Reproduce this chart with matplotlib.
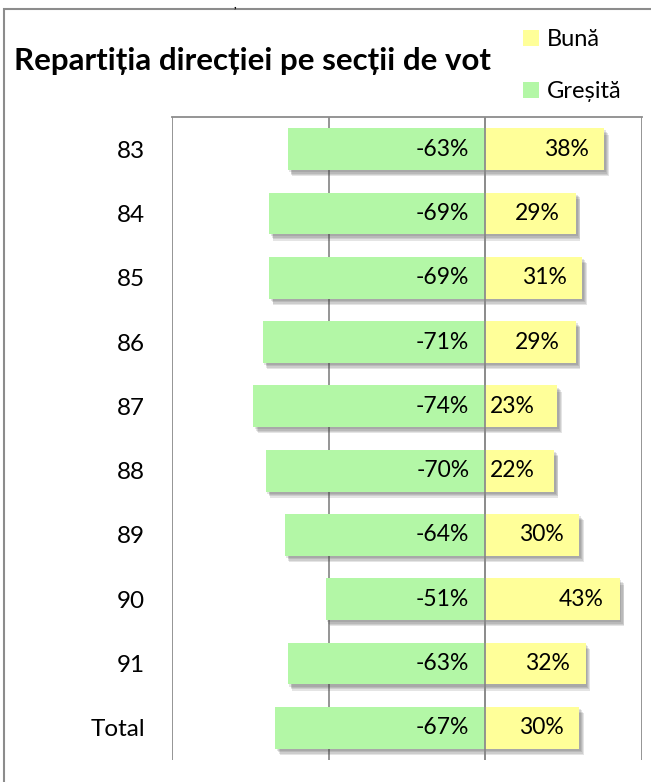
import numpy as np
import matplotlib.pyplot as plt
import matplotlib.patheffects as pe
from matplotlib.patches import Rectangle

categories = ['83', '84', '85', '86', '87', '88', '89', '90', '91', 'Total']
gresita = [-63, -69, -69, -71, -74, -70, -64, -51, -63, -67]
buna = [38, 29, 31, 29, 23, 22, 30, 43, 32, 30]

green = '#b3f7a6'
yellow = '#ffff99'
grid_c = '#8c8c8c'
font = 'Lato'

W, H = 651, 782
fig = plt.figure(figsize=(W / 100, H / 100), dpi=100)

# outer chart border (cut off at right and bottom)
fig.patches.append(Rectangle((4 / W, -0.1), 1.2, 1 - 9 / H + 0.1, transform=fig.transFigure,
                             fill=False, edgecolor=grid_c, lw=1.5))
fig.text(235 / W, 1 - 4 / H, ',', fontsize=8, fontweight='bold', ha='center', va='center', family=font)

ax = fig.add_axes([172 / W, 1 - 760 / H, (642 - 172) / W, (760 - 117) / H])
y = np.arange(len(categories))

# soft shadow: a few offset layers with low alpha
shadow = [pe.SimplePatchShadow(offset=(dx, -dy), shadow_rgbFace='#444444', alpha=0.14)
          for dx, dy in [(1, 1.5), (2, 2.5), (2.5, 3.5), (3, 4.5)]] + [pe.Normal()]
bars_g = ax.barh(y, gresita, height=0.65, color=green, zorder=3, path_effects=shadow, label='Greșită')
bars_b = ax.barh(y, buna, height=0.65, color=yellow, zorder=3, path_effects=shadow, label='Bună')

ax.set_xlim(-100, 50)
ax.set_ylim(len(categories) - 0.5, -0.5)
ax.set_xticks([-100, -50, 0, 50])
ax.xaxis.grid(True, color=grid_c, lw=1.3, zorder=1)
ax.tick_params(axis='x', length=0, labelbottom=False)
ax.tick_params(axis='y', length=0, pad=19.5)
ax.set_yticks(y)
ax.set_yticklabels(categories, fontsize=17.5, family=font)
for s in ['left', 'right', 'bottom']:
    ax.spines[s].set_visible(False)
ax.spines['top'].set_color(grid_c)
ax.spines['top'].set_linewidth(1.3)
ax.axvline(0, color=grid_c, lw=1.3, zorder=4)

px_per_unit = (642 - 172) / 150
for i, (g, b) in enumerate(zip(gresita, buna)):
    ax.annotate(f'{g}%', (0, i), xytext=(-16, 0), textcoords='offset pixels',
                ha='right', va='center', fontsize=16.5, family=font, zorder=5)
    if b * px_per_unit - 16 > 6 + 52:
        ax.annotate(f'{b}%', (b, i), xytext=(-16, 0), textcoords='offset pixels',
                    ha='right', va='center', fontsize=16.5, family=font, zorder=5)
    else:
        ax.annotate(f'{b}%', (0, i), xytext=(5, 0), textcoords='offset pixels',
                    ha='left', va='center', fontsize=16.5, family=font, zorder=5)

fig.text(14 / W, 1 - 61 / H, 'Repartiția direcției pe secții de vot', fontsize=22.5,
         fontweight='bold', ha='left', va='center', family=font)

leg = fig.legend([bars_b, bars_g], ['Bună', 'Greșită'], loc='upper left',
                 bbox_to_anchor=(502 / W, 1 - 8 / H), frameon=False, prop={'family': font, 'size': 17},
                 handlelength=0.65, handleheight=0.65, handletextpad=0.35, labelspacing=1.3)
for h in leg.legend_handles:
    h.set_path_effects([])

fig.savefig('out.png', dpi=100)
